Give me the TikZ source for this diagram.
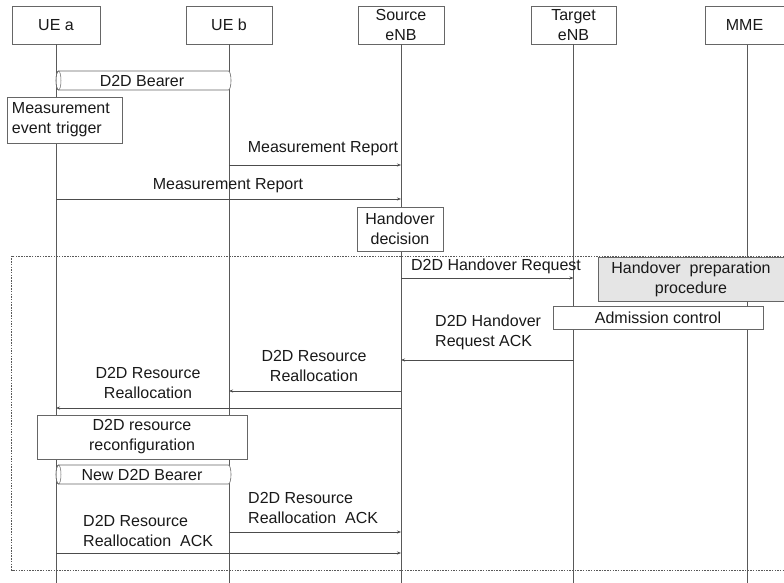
\documentclass[tikz,border=0pt]{standalone}
\usepackage{fontspec}
\setmainfont{Liberation Sans}
\usetikzlibrary{arrows.meta}
\begin{document}
\begin{tikzpicture}[x=1pt,y=-1pt,
  font=\fontsize{16}{20}\selectfont,
  every node/.style={inner sep=0pt, text=black!90},
  hdr/.style={draw=black!60, line width=0.6pt, fill=white, minimum width=86pt, minimum height=38pt, align=center},
  life/.style={draw=black!65, line width=0.6pt},
  msg/.style={draw=black!70, line width=0.6pt, -{Stealth[length=4pt,width=3pt]}},
  proc/.style={draw=black!60, line width=0.6pt, fill=white, align=center},
  bearer/.style={draw=black!60, line width=0.6pt, fill=white},
  frame/.style={draw=black!65, line width=0.5pt, dash pattern=on 1.5pt off 1.2pt},
]
\useasboundingbox (0,0) rectangle (784,583);
% headers
\node[hdr, minimum width=88pt] (uea) at (56,25) {UE a};
\node[hdr] (ueb) at (229,25) {UE b};
\node[hdr] (src) at (401,25) {Source\\eNB};
\node[hdr, minimum width=85pt] (tgt) at (573.5,25) {Target\\eNB};
\coordinate (bottom) at (0,583);
% lifelines
\draw[life] (uea.south) -- (uea |- bottom);
\draw[life] (ueb.south) -- (ueb |- bottom);
\draw[life] (src.south) -- (src |- bottom);
\draw[life] (tgt.south) -- (tgt |- bottom);
\coordinate (mmel) at (747,44);
\draw[life] (mmel) -- (mmel |- bottom);
\node[hdr, minimum width=79pt] (mme) at (744.5,25) {MME};
% frame
\draw[frame] (784,256) -- (11.5,256) -- (11.5,570) -- (784,570);
% D2D bearer
\draw[bearer] (58.5,71) -- (228.5,71) arc[start angle=-90,end angle=90,x radius=2.5,y radius=9.5]
  -- (58.5,90) arc[start angle=90,end angle=270,x radius=2.5,y radius=9.5] -- cycle;
\draw[draw=black!60, line width=0.5pt] (58.5,80.5) ellipse[x radius=2.5, y radius=9.5];
\node (bear) at (142,81) {D2D Bearer};
% measurement event trigger
\node[proc, align=left, minimum width=115pt, minimum height=46pt, text width=105pt] (met) at (64.5,120) {Measurement\\event trigger};
% measurement reports
\coordinate (r1) at (0,165);
\coordinate (r2) at (0,199);
\draw[msg] (ueb |- r1) -- (src |- r1);
\node (l1) at (323,149) {Measurement Report};
\draw[msg] (uea |- r2) -- (src |- r2);
\node (l2) at (228,186) {Measurement Report};
% handover decision
\node[proc, minimum width=86pt, minimum height=44pt] (hd) at (400,229) {Handover\\decision};
% handover request
\coordinate (r3) at (0,278);
\draw[msg] (src |- r3) -- (tgt |- r3);
\node (l3) at (496,266) {D2D Handover Request};
% handover preparation
\node[proc, fill=black!10, minimum width=186pt, minimum height=44pt] (hp) at (691,279) {Handover\ \ preparation\\procedure};
\node[proc, minimum width=210pt, minimum height=23pt] (ac) at (658,317.5) {Admission control};
% handover request ack
\coordinate (r4) at (0,360);
\draw[msg] (tgt |- r4) -- (src |- r4);
\node[align=left, anchor=west] (l4) at (435,332) {D2D Handover\\Request ACK};
% resource reallocation
\coordinate (r5) at (0,391);
\coordinate (r6) at (0,408);
\draw[msg] (src |- r5) -- (ueb |- r5);
\node[align=center] (l5) at (314,366) {D2D Resource\\Reallocation};
\draw[msg] (src |- r6) -- (uea |- r6);
\node[align=center] (l6) at (148,383) {D2D Resource\\Reallocation};
% reconfiguration
\node[proc, minimum width=210pt, minimum height=44pt] (rc) at (142,437) {D2D resource\\reconfiguration};
% new D2D bearer
\draw[bearer] (58.5,465) -- (228.5,465) arc[start angle=-90,end angle=90,x radius=2.5,y radius=9.5]
  -- (58.5,484) arc[start angle=90,end angle=270,x radius=2.5,y radius=9.5] -- cycle;
\draw[draw=black!60, line width=0.5pt] (58.5,474.5) ellipse[x radius=2.5, y radius=9.5];
\node (nbear) at (142,475) {New D2D Bearer};
% reallocation ack
\coordinate (r7) at (0,532);
\coordinate (r8) at (0,553);
\draw[msg] (ueb |- r7) -- (src |- r7);
\node[align=left, anchor=west] (l7) at (248,508) {D2D Resource\\Reallocation\ \ ACK};
\draw[msg] (uea |- r8) -- (src |- r8);
\node[align=left, anchor=west] (l8) at (83,531) {D2D Resource\\Reallocation\ \ ACK};
\end{tikzpicture}
\end{document}
